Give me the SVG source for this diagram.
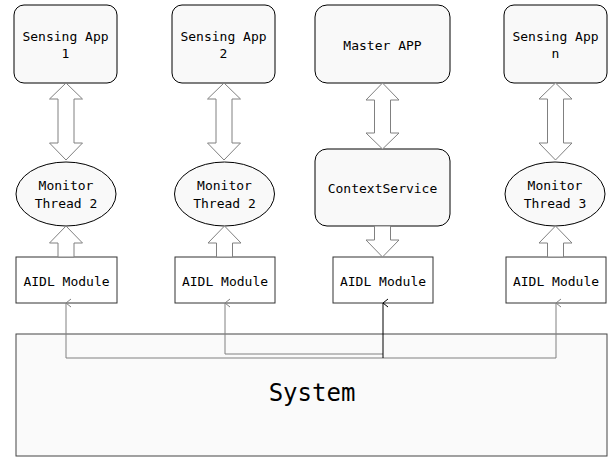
<svg xmlns="http://www.w3.org/2000/svg" width="610" height="457" viewBox="0 0 610 457">
<defs>
<style>
.rb{fill:#f9f9f9;stroke:#000;stroke-width:1}
.sq{fill:#fff;stroke:#333;stroke-width:1}
.el{fill:#f9f9f9;stroke:#000;stroke-width:1}
.ar{fill:#fff;stroke:#808080;stroke-width:1}
.t{font-family:"DejaVu Sans Mono","Liberation Mono",monospace;font-size:13px;fill:#000;text-anchor:middle;dominant-baseline:central}
.big{font-size:24px}
.ln{fill:none;stroke:#808080;stroke-width:1}
.lk{fill:none;stroke:#000;stroke-width:1}
</style>
<marker id="ag" viewBox="0 0 10 10" refX="5" refY="1" markerWidth="10" markerHeight="10" markerUnits="userSpaceOnUse" orient="auto-start-reverse">
<path d="M1,6 L5,1 L9,6" fill="none" stroke="#808080" stroke-width="1"/>
</marker>
<marker id="ak" viewBox="0 0 10 10" refX="5" refY="1" markerWidth="10" markerHeight="10" markerUnits="userSpaceOnUse" orient="auto-start-reverse">
<path d="M1,6 L5,1 L9,6" fill="none" stroke="#000" stroke-width="1"/>
</marker>
</defs>
<rect width="610" height="457" fill="#fff"/>

<g id="system">
<rect x="16" y="334" width="591" height="122" fill="#fafafa" stroke="#444" stroke-width="1"/>
<text class="t big" x="312" y="393">System</text>
</g>

<g id="app1"><rect class="rb" x="14" y="5" width="103" height="78" rx="10"/><text class="t" x="65.5" y="36">Sensing App</text><text class="t" x="65.5" y="53">1</text></g>
<g id="app2"><rect class="rb" x="172" y="5" width="103" height="78" rx="10"/><text class="t" x="223.5" y="36">Sensing App</text><text class="t" x="223.5" y="53">2</text></g>
<g id="master"><rect class="rb" x="315" y="5" width="135" height="78" rx="12"/><text class="t" x="382.5" y="45">Master APP</text></g>
<g id="appn"><rect class="rb" x="504" y="5" width="103" height="78" rx="10"/><text class="t" x="555.5" y="36">Sensing App</text><text class="t" x="555.5" y="53">n</text></g>

<g id="mon1"><ellipse class="el" cx="66" cy="194" rx="50" ry="32"/><text class="t" x="66" y="185">Monitor</text><text class="t" x="66" y="203">Thread 2</text></g>
<g id="mon2"><ellipse class="el" cx="224.5" cy="194" rx="50" ry="32"/><text class="t" x="224.5" y="185">Monitor</text><text class="t" x="224.5" y="203">Thread 2</text></g>
<g id="ctx"><rect class="rb" x="315" y="149" width="135" height="77" rx="12"/><text class="t" x="382.5" y="188">ContextService</text></g>
<g id="mon3"><ellipse class="el" cx="555" cy="194" rx="50" ry="32"/><text class="t" x="555" y="185">Monitor</text><text class="t" x="555" y="203">Thread 3</text></g>

<g id="aidl1"><rect class="sq" x="16" y="257" width="101" height="46"/><text class="t" x="66.5" y="281">AIDL Module</text></g>
<g id="aidl2"><rect class="sq" x="175" y="257" width="100" height="46"/><text class="t" x="225" y="281">AIDL Module</text></g>
<g id="aidl3"><rect class="sq" x="333" y="257" width="100" height="46"/><text class="t" x="383" y="281">AIDL Module</text></g>
<g id="aidl4"><rect class="sq" x="506" y="257" width="100" height="46"/><text class="t" x="556" y="281">AIDL Module</text></g>

<g id="connectors">
<!-- double arrows -->
<path class="ar" d="M66,83 L82.5,99 L74,99 L74,143 L82.5,143 L66,160 L49.5,143 L58,143 L58,99 L49.5,99 Z"/>
<path class="ar" d="M224,83 L240.5,99 L232,99 L232,143 L240.5,143 L224,160 L207.5,143 L216,143 L216,99 L207.5,99 Z"/>
<path class="ar" d="M382.5,83 L399,100 L390.5,100 L390.5,133 L399,133 L382.5,149 L366,133 L374.5,133 L374.5,100 L366,100 Z"/>
<path class="ar" d="M555.5,83 L572,99 L563.5,99 L563.5,143 L572,143 L555.5,160 L539,143 L547.5,143 L547.5,99 L539,99 Z"/>
<!-- up arrows AIDL -> monitor -->
<path class="ar" d="M66,226 L82.5,243 L74,243 L74,257 L58,257 L58,243 L49.5,243 Z"/>
<path class="ar" d="M224.5,226 L241,243 L232.5,243 L232.5,257 L216.5,257 L216.5,243 L208,243 Z"/>
<path class="ar" d="M555.5,226 L572,243 L563.5,243 L563.5,257 L547.5,257 L547.5,243 L539,243 Z"/>
<!-- down arrow context -> AIDL3 -->
<path class="ar" d="M374.5,226 L390.5,226 L390.5,240 L399,240 L382.5,257 L366,240 L374.5,240 Z"/>
<!-- system lines -->
<path class="ln" d="M66,303 L66,358 L556,358 L556,303" marker-start="url(#ag)" marker-end="url(#ag)"/>
<path class="ln" d="M225,303 L225,354 L383,354" marker-start="url(#ag)"/>
<path class="lk" d="M383,358 L383,303" marker-end="url(#ak)"/>
</g>
</svg>
